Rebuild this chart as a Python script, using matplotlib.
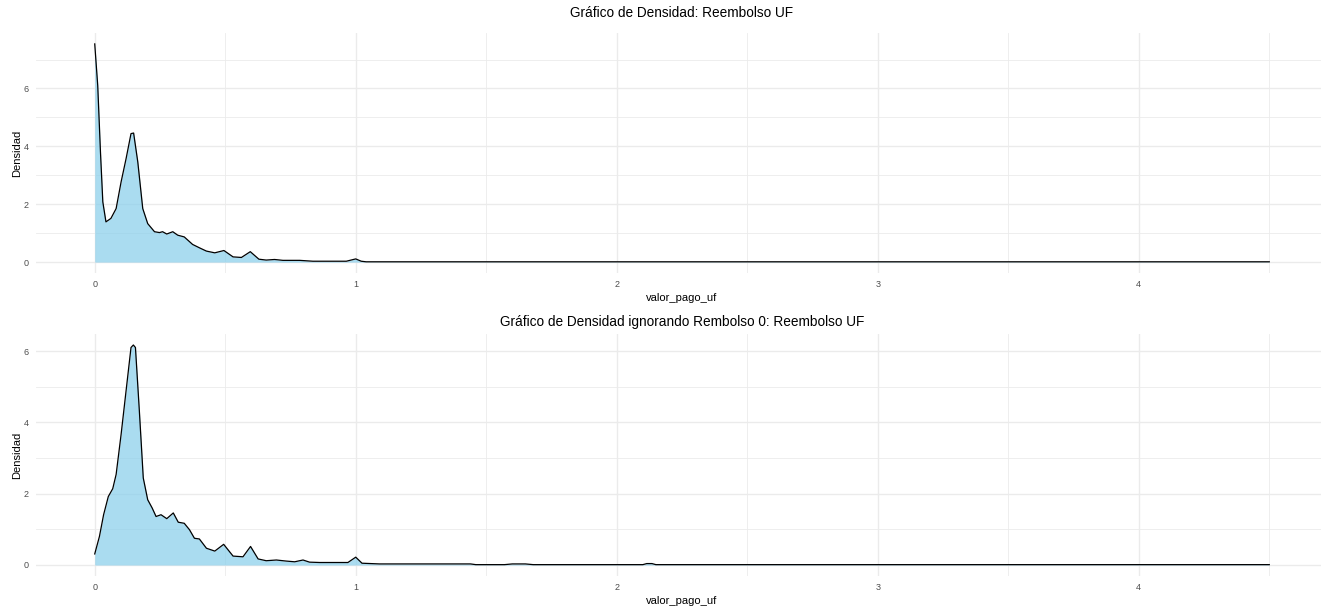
import matplotlib
matplotlib.use("Agg")
import matplotlib.pyplot as plt
import numpy as np

plt.rcParams['font.family'] = ['Liberation Sans', 'DejaVu Sans']

# ---- data (density estimates) ----
x_top = [0.0, 0.0115, 0.022, 0.031, 0.043, 0.062, 0.082, 0.101, 0.120, 0.139, 0.149,
         0.165, 0.184, 0.203, 0.229, 0.248, 0.260, 0.276, 0.299, 0.318, 0.343, 0.375,
         0.402, 0.428, 0.460, 0.495, 0.530, 0.562, 0.596, 0.629, 0.657, 0.689, 0.721,
         0.785, 0.836, 0.964, 1.000, 1.021, 1.040, 1.5, 2.0, 2.5, 3.0, 3.5, 4.0, 4.5]
dens_top = [7.54, 6.10, 3.80, 2.08, 1.39, 1.51, 1.85, 2.77, 3.57, 4.44, 4.46,
            3.46, 1.85, 1.33, 1.05, 1.02, 1.05, 0.97, 1.05, 0.93, 0.87, 0.61,
            0.49, 0.38, 0.32, 0.40, 0.18, 0.16, 0.36, 0.10, 0.07, 0.09, 0.06,
            0.06, 0.03, 0.03, 0.11, 0.03, 0.01, 0.01, 0.01, 0.01, 0.01, 0.01, 0.01, 0.01]

x_bot = [0.0, 0.018, 0.034, 0.052, 0.069, 0.082, 0.101, 0.120, 0.139, 0.148, 0.156,
         0.171, 0.186, 0.203, 0.220, 0.235, 0.254, 0.276, 0.301, 0.320, 0.343, 0.363,
         0.382, 0.401, 0.428, 0.460, 0.494, 0.530, 0.568, 0.597, 0.626, 0.657, 0.696,
         0.734, 0.766, 0.798, 0.823, 0.862, 0.970, 1.000, 1.024, 1.091, 1.44, 1.46,
         1.57, 1.60, 1.65, 1.68, 2.10, 2.115, 2.135, 2.15, 3.0, 4.0, 4.5]
dens_bot = [0.31, 0.80, 1.41, 1.92, 2.14, 2.54, 3.66, 4.88, 6.10, 6.17, 6.10,
            4.32, 2.44, 1.83, 1.60, 1.36, 1.41, 1.30, 1.46, 1.20, 1.17, 0.99,
            0.75, 0.73, 0.47, 0.39, 0.58, 0.25, 0.23, 0.52, 0.17, 0.12, 0.14,
            0.11, 0.09, 0.14, 0.08, 0.07, 0.07, 0.22, 0.05, 0.03, 0.03, 0.01,
            0.01, 0.03, 0.03, 0.01, 0.01, 0.04, 0.04, 0.01, 0.01, 0.01, 0.01]

titles = ["Gráfico de Densidad: Reembolso UF",
          "Gráfico de Densidad ignorando Rembolso 0: Reembolso UF"]
xlabel = "valor_pago_uf"
ylabel = "Densidad"

W, H = 1321, 606
fig = plt.figure(figsize=(W / 100, H / 100), dpi=100)

# axes positions in pixels (left, top, right, bottom)
panels = [(36, 33, 1328, 273), (36, 334, 1328, 576)]
series = [(x_top, dens_top), (x_bot, dens_bot)]
title_y = [13, 322]

fill_col = "#87CEEB"
grid_col = "#EBEBEB"

for (l, t, r, b), (xs, ys), title, ty in zip(panels, series, titles, title_y):
    ax = fig.add_axes([l / W, 1 - b / H, (r - l) / W, (b - t) / H])
    ymax = max(ys)
    ax.set_xlim(-0.225, 4.725)
    ax.set_ylim(-0.05 * ymax, ymax * 1.05)
    ax.fill_between(xs, ys, 0, color=fill_col, alpha=0.7, lw=0, zorder=2)
    ax.plot(xs, ys, color="black", lw=0.9, zorder=3, solid_joinstyle="round")
    ax.set_xticks([0, 1, 2, 3, 4])
    ax.set_xticks([0.5, 1.5, 2.5, 3.5, 4.5], minor=True)
    ax.set_yticks([0, 2, 4, 6])
    ax.set_yticks([1, 3, 5, 7] if ymax > 7 else [1, 3, 5], minor=True)
    ax.grid(True, which="major", color=grid_col, lw=1.0, zorder=0)
    ax.grid(True, which="minor", color=grid_col, lw=0.6, zorder=0)
    for s in ax.spines.values():
        s.set_visible(False)
    ax.tick_params(which="both", length=0, labelsize=6.5, labelcolor="#4D4D4D", pad=5)
    ax.set_xlabel(xlabel, fontsize=8, labelpad=3)
    ax.set_ylabel(ylabel, fontsize=8, labelpad=1)
    ax.set_axisbelow(True)
    fig.text(((l + r) / 2) / W, 1 - ty / H, title, ha="center", va="center", fontsize=9.8)

fig.savefig("out.png", dpi=100)
